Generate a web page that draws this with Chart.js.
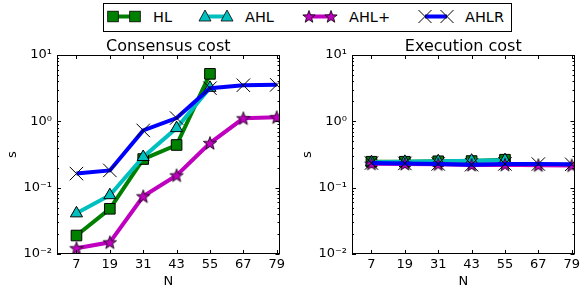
<!DOCTYPE html>
<html>
<head>
<meta charset="utf-8">
<script src="https://cdn.jsdelivr.net/npm/chart.js@4/dist/chart.umd.min.js"></script>
<style>
  body { margin: 0; width: 585px; height: 291px; position: relative; background: #fff; overflow: hidden; font-family: 'DejaVu Sans', sans-serif; }
  #legend { position: absolute; left: 103px; top: 3px; }
  canvas { position: absolute; top: 33px; }
  #consensus { left: 0; }
  #execution { left: 295px; }
</style>
</head>
<body>
<svg id="legend" width="409" height="29"></svg>
<canvas id="consensus" width="290" height="258"></canvas>
<canvas id="execution" width="290" height="258"></canvas>
<script>
// data
const xCategories = [7, 19, 31, 43, 55, 67, 79];
const seriesNames = ['HL', 'AHL', 'AHL+', 'AHLR'];
const yTickValues = [0.01, 0.1, 1, 10];
const yTickLabels = ['10⁻²', '10⁻¹', '10⁰', '10¹'];

const consensusHL = [0.019, 0.048, 0.27, 0.44, 5.2];
const consensusAHL = [0.041, 0.077, 0.29, 0.79, 3.2];
const consensusAHLplus = [0.0122, 0.015, 0.074, 0.153, 0.47, 1.11, 1.15];
const consensusAHLR = [0.163, 0.182, 0.73, 1.12, 3.16, 3.5, 3.55];

const executionHL = [0.246, 0.246, 0.25, 0.252, 0.264];
const executionAHL = [0.242, 0.245, 0.25, 0.255, 0.26];
const executionAHLplus = [0.23, 0.228, 0.225, 0.22, 0.222, 0.218, 0.216];
const executionAHLR = [0.235, 0.232, 0.228, 0.222, 0.228, 0.227, 0.225];

const seriesColors = ['#008000', '#00bfbf', '#bf00bf', '#0000ff'];

Chart.defaults.font.family = "'DejaVu Sans', sans-serif";
Chart.defaults.font.size = 13;
Chart.defaults.color = '#000';

function starPoints(cx, cy, outer, inner) {
    const pts = [];
    for (let i = 0; i < 10; i++) {
        const r = i % 2 ? inner : outer;
        const a = -Math.PI / 2 + i * Math.PI / 5;
        pts.push([cx + Math.cos(a) * r, cy + Math.sin(a) * r]);
    }
    return pts;
}

// star marker as a small canvas (Chart.js has no filled star)
function makeStar() {
    const c = document.createElement('canvas');
    c.width = 16; c.height = 16;
    const g = c.getContext('2d');
    g.beginPath();
    starPoints(8, 8.5, 7, 2.9).forEach((p, i) => i ? g.lineTo(p[0], p[1]) : g.moveTo(p[0], p[1]));
    g.closePath();
    g.fillStyle = seriesColors[2];
    g.fill();
    g.strokeStyle = '#000';
    g.lineWidth = 0.8;
    g.stroke();
    return c;
}

const pointStyles = ['rect', 'triangle', makeStar(), 'crossRot'];
const pointRadii = [7.5, 7, 7, 9.5];

// inward ticks + box, like matplotlib
const frameTicks = {
    id: 'frameTicks',
    afterDraw(chart) {
        const { ctx, chartArea: a, scales: { x, y } } = chart;
        ctx.save();
        ctx.strokeStyle = '#000';
        ctx.lineWidth = 1;
        ctx.beginPath();
        xCategories.forEach(v => {
            const px = Math.round(x.getPixelForValue(v)) + 0.5;
            ctx.moveTo(px, a.bottom); ctx.lineTo(px, a.bottom - 4);
            ctx.moveTo(px, a.top); ctx.lineTo(px, a.top + 4);
        });
        y.ticks.forEach(t => {
            const py = Math.round(y.getPixelForValue(t.value)) + 0.5;
            const major = yTickValues.some(v => Math.abs(v - t.value) / v < 1e-6);
            const len = major ? 4 : 2;
            ctx.moveTo(a.left, py); ctx.lineTo(a.left + len, py);
            ctx.moveTo(a.right, py); ctx.lineTo(a.right - len, py);
        });
        ctx.stroke();
        ctx.strokeRect(Math.round(a.left) + 0.5, Math.round(a.top) + 0.5,
            Math.round(a.right - a.left) - 1, Math.round(a.bottom - a.top) - 1);
        ctx.restore();
    }
};

function makeChart(id, title, series) {
    return new Chart(document.getElementById(id), {
        type: 'line',
        data: {
            datasets: series.map((vals, i) => ({
                label: seriesNames[i],
                data: vals.map((v, j) => ({ x: xCategories[j], y: v })),
                borderColor: seriesColors[i],
                backgroundColor: seriesColors[i],
                borderWidth: 4,
                pointStyle: pointStyles[i],
                pointRadius: pointRadii[i],
                pointBackgroundColor: seriesColors[i],
                pointBorderColor: '#000',
                pointBorderWidth: 1,
                order: 4 - i
            }))
        },
        options: {
            responsive: false,
            animation: false,
            layout: { padding: { right: 5 } },
            plugins: {
                legend: { display: false },
                tooltip: { enabled: false },
                title: {
                    display: true, text: title, color: '#000', fullSize: false,
                    font: { size: 16, weight: 'normal', lineHeight: 1 },
                    padding: { top: 5.5, bottom: 0.5 }
                }
            },
            scales: {
                x: {
                    type: 'linear', min: 0, max: 80,
                    afterBuildTicks: s => { s.ticks = xCategories.map(v => ({ value: v })); },
                    afterFit: s => { s.height = 37; },
                    grid: { display: false, drawTicks: false },
                    border: { display: false },
                    ticks: { padding: 3, autoSkip: false, maxRotation: 0, callback: v => String(v) },
                    title: { display: true, text: 'N', font: { size: 13 }, padding: { top: 0, bottom: 2 } }
                },
                y: {
                    type: 'logarithmic', min: 0.01, max: 10,
                    afterBuildTicks: s => {
                        const t = [];
                        for (let e = -2; e < 1; e++)
                            for (let m = 1; m < 10; m++) t.push({ value: m * Math.pow(10, e) });
                        t.push({ value: 10 });
                        s.ticks = t;
                    },
                    afterFit: s => { s.width = 57; },
                    grid: { display: false, drawTicks: false },
                    border: { display: false },
                    ticks: {
                        padding: 5, autoSkip: false,
                        callback: v => {
                            const k = yTickValues.findIndex(t => Math.abs(t - v) / t < 1e-6);
                            return k >= 0 ? yTickLabels[k] : '';
                        }
                    },
                    title: { display: true, text: 's', font: { size: 13 }, padding: { top: 5, bottom: 0 } }
                }
            }
        },
        plugins: [frameTicks]
    });
}

makeChart('consensus', 'Consensus cost', [consensusHL, consensusAHL, consensusAHLplus, consensusAHLR]);
makeChart('execution', 'Execution cost', [executionHL, executionAHL, executionAHLplus, executionAHLR]);

// legend: box with line + two markers per entry
(function buildLegend() {
    const svg = document.getElementById('legend');
    const ns = 'http://www.w3.org/2000/svg';
    const el = (tag, attrs) => {
        const e = document.createElementNS(ns, tag);
        Object.entries(attrs).forEach(([k, v]) => e.setAttribute(k, v));
        svg.appendChild(e);
        return e;
    };
    el('rect', { x: 0.5, y: 0.5, width: 408, height: 28, fill: '#fff', stroke: '#000', 'stroke-width': 1 });
    const starts = [10, 102, 206, 322];
    const cy = 13.5;
    seriesNames.forEach((name, i) => {
        const x0 = starts[i], x1 = x0 + 22;
        const col = seriesColors[i];
        el('line', { x1: x0, y1: cy, x2: x1, y2: cy, stroke: col, 'stroke-width': 4 });
        [x0, x1].forEach(cx => {
            if (i === 0) {
                el('rect', { x: cx - 5.3, y: cy - 5.3, width: 10.6, height: 10.6, fill: col, stroke: '#000', 'stroke-width': 0.8 });
            } else if (i === 1) {
                el('polygon', { points: `${cx},${cy - 6.5} ${cx - 6},${cy + 4.5} ${cx + 6},${cy + 4.5}`, fill: col, stroke: '#000', 'stroke-width': 0.8 });
            } else if (i === 2) {
                el('polygon', { points: starPoints(cx, cy + 0.5, 6.5, 2.7).map(p => p.join(',')).join(' '), fill: col, stroke: '#000', 'stroke-width': 0.8 });
            } else {
                el('path', { d: `M${cx - 6.5},${cy - 6.5}L${cx + 6.5},${cy + 6.5}M${cx - 6.5},${cy + 6.5}L${cx + 6.5},${cy - 6.5}`, stroke: '#000', 'stroke-width': 1 });
            }
        });
        const t = el('text', { x: x1 + 18, y: 18.8, 'font-size': 14.5, 'font-family': 'DejaVu Sans', fill: '#000' });
        t.textContent = name;
    });
})();
</script>
</body>
</html>
